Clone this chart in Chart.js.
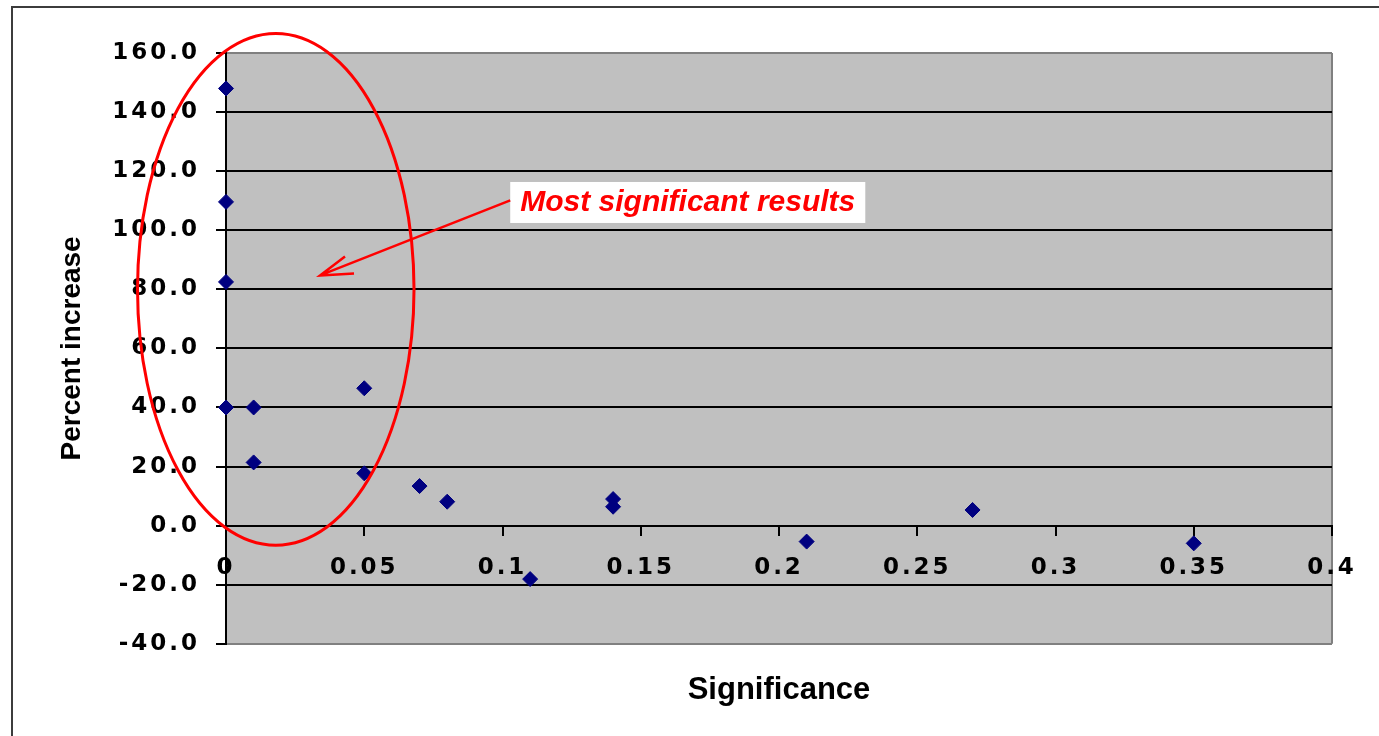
<!DOCTYPE html>
<html>
<head>
<meta charset="utf-8">
<title>Percent increase vs significance</title>
<script src="https://cdn.jsdelivr.net/npm/chart.js@4/dist/chart.umd.min.js"></script>
<style>
  html, body { margin: 0; padding: 0; background: #fff; }
  #wrap { width: 1379px; height: 736px; }
</style>
</head>
<body>
<div id="wrap"><canvas id="sigChart" width="1379" height="736"></canvas></div>
<script>
// values
const significance = [0, 0, 0, 0, 0.01, 0.01, 0.05, 0.05, 0.07, 0.08, 0.11, 0.14, 0.14, 0.21, 0.27, 0.35];
const percentIncrease = [148, 109.6, 82.5, 40, 40, 21.4, 46.5, 17.7, 13.4, 8.1, -18.1, 9, 6.4, -5.4, 5.3, -6];
const xTickLabels = ['0', '0.05', '0.1', '0.15', '0.2', '0.25', '0.3', '0.35', '0.4'];
const yTickLabels = ['-40.0', '-20.0', '0.0', '20.0', '40.0', '60.0', '80.0', '100.0', '120.0', '140.0', '160.0'];
const calloutText = 'Most significant results';

const points = significance.map((s, i) => ({ x: s, y: percentIncrease[i] }));

const SANS = '"Liberation Sans", Arial, sans-serif';
const TICK_FONT = { family: '"DejaVu Sans", sans-serif', size: 23, weight: 'bold' };
const TICK_SPACING = '3px';

// white page, frame on top/left, grey plot area, wide tick labels
const paper = {
  id: 'paper',
  beforeDraw(chart) {
    const { ctx, chartArea: a, width, height } = chart;
    ctx.save();
    ctx.fillStyle = '#fff';
    ctx.fillRect(0, 0, width, height);
    ctx.strokeStyle = '#3c3c3c';
    ctx.lineWidth = 2;
    ctx.beginPath();
    ctx.moveTo(12, height);
    ctx.lineTo(12, 7);
    ctx.lineTo(width, 7);
    ctx.stroke();
    ctx.fillStyle = '#c0c0c0';
    ctx.fillRect(a.left, a.top, a.right - a.left, a.bottom - a.top);
    ctx.restore();

    // excel draws its tick numbers stretched, fake it with letter spacing
    ['x', 'y'].forEach(id => {
      const scale = chart.scales[id];
      if (scale._spaced) return;
      const orig = scale.drawLabels;
      scale.drawLabels = function (area) {
        this.ctx.save();
        this.ctx.letterSpacing = TICK_SPACING;
        orig.call(this, area);
        this.ctx.restore();
      };
      scale._spaced = true;
    });
  }
};

// red ellipse + arrow + boxed note
const callout = {
  id: 'callout',
  afterDraw(chart) {
    const { ctx, scales: { x, y } } = chart;
    const cx = x.getPixelForValue(0.018), cy = y.getPixelForValue(80);
    const rx = x.getPixelForValue(0.068) - cx;
    const ry = cy - y.getPixelForValue(166.6);
    ctx.save();
    ctx.strokeStyle = '#ff0000';
    ctx.lineWidth = 3;
    ctx.beginPath();
    ctx.ellipse(cx, cy, rx, ry, 0, 0, Math.PI * 2);
    ctx.stroke();

    const tx = x.getPixelForValue(0.167), ty = y.getPixelForValue(109.4);
    ctx.font = 'italic bold 30px ' + SANS;
    const w = ctx.measureText(calloutText).width + 20;
    ctx.fillStyle = '#fff';
    ctx.fillRect(tx - w / 2, ty - 20.5, w, 41);
    ctx.fillStyle = '#ff0000';
    ctx.textAlign = 'center';
    ctx.textBaseline = 'middle';
    ctx.fillText(calloutText, tx, ty);

    const sx = tx - w / 2, sy = y.getPixelForValue(110.1);
    const ax = x.getPixelForValue(0.034), ay = y.getPixelForValue(84.7);
    ctx.lineWidth = 2.5;
    ctx.beginPath();
    ctx.moveTo(sx, sy);
    ctx.lineTo(ax, ay);
    ctx.moveTo(ax + 25, ay - 19);
    ctx.lineTo(ax, ay);
    ctx.lineTo(ax + 34, ay - 2);
    ctx.stroke();
    ctx.restore();
  }
};

const ctx = document.getElementById('sigChart').getContext('2d');

const sigChart = new Chart(ctx, {
  type: 'scatter',
  data: {
    datasets: [{
      label: 'Percent increase',
      data: points,
      pointStyle: 'rectRot',
      pointRadius: 7.5,
      backgroundColor: '#000080',
      borderColor: '#000080',
      borderWidth: 1,
      clip: false
    }]
  },
  options: {
    responsive: false,
    animation: false,
    layout: { padding: { top: 53, right: 47, bottom: 27, left: 0 } },
    plugins: {
      legend: { display: false },
      tooltip: { enabled: false },
      title: {
        display: true,
        position: 'bottom',
        fullSize: false,
        text: 'Significance',
        color: '#000',
        font: { family: SANS, size: 31, weight: 'bold' },
        padding: { top: 28, bottom: 0 }
      }
    },
    scales: {
      x: {
        type: 'linear',
        position: { y: 0 },
        min: 0,
        max: 0.4,
        ticks: {
          stepSize: 0.05,
          autoSkip: false,
          maxRotation: 0,
          padding: 20,
          color: '#000',
          font: TICK_FONT,
          callback: (v, i) => xTickLabels[i] ?? String(v)
        },
        grid: {
          color: c => (c.tick && Math.abs(c.tick.value - 0.4) < 1e-9) ? '#808080' : 'rgba(0,0,0,0)',
          lineWidth: 2,
          tickLength: 9,
          tickColor: '#000'
        },
        border: { color: '#000', width: 2 }
      },
      y: {
        min: -40,
        max: 160,
        afterFit: s => { s.width = 226; },
        ticks: {
          stepSize: 20,
          padding: 16,
          color: '#000',
          font: TICK_FONT,
          callback: (v, i) => yTickLabels[i] ?? v.toFixed(1)
        },
        grid: {
          color: c => (c.tick && (c.tick.value === 160 || c.tick.value === -40)) ? '#808080' : '#000',
          lineWidth: 2,
          tickLength: 10,
          tickColor: '#000'
        },
        border: { color: '#000', width: 2 },
        title: {
          display: true,
          text: 'Percent increase',
          color: '#000',
          font: { family: SANS, size: 28, weight: 'bold' },
          padding: { top: 55, bottom: 0 }
        }
      }
    }
  },
  plugins: [paper, callout]
});
</script>
</body>
</html>
